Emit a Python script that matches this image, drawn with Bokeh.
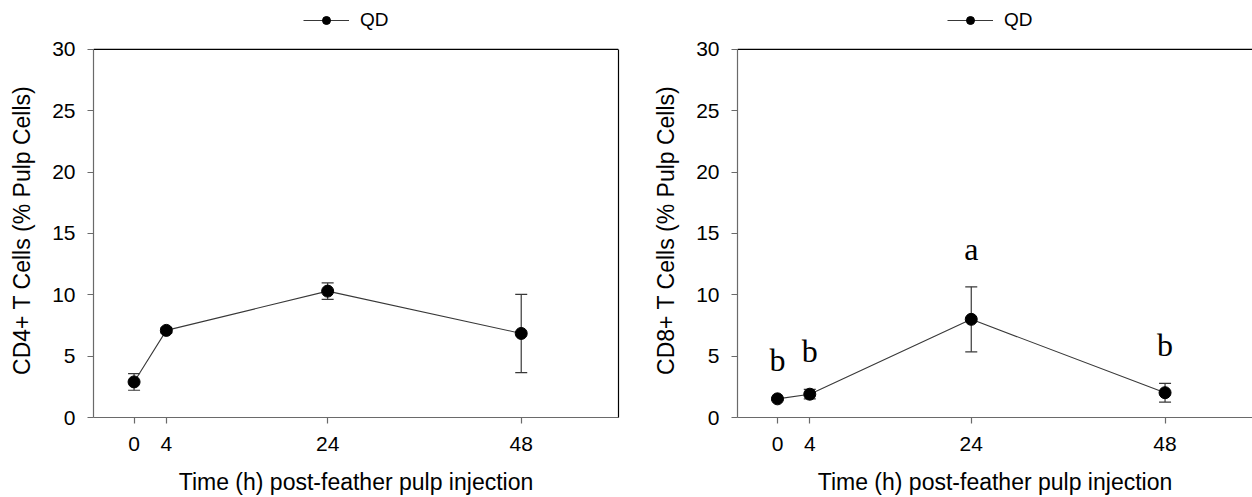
from bokeh.plotting import figure
from bokeh.models import (Range1d, Whisker, TeeHead, ColumnDataSource, Legend,
                          LegendItem, LinearAxis, FixedTicker, Span)
from bokeh.layouts import row
from bokeh.embed import file_html
from bokeh.resources import INLINE
from bokeh.core.properties import value

# ---- data ----
hours = [0, 4, 24, 48]
cd4_mean = [2.9, 7.1, 10.3, 6.85]
cd4_sem = [0.68, 0.2, 0.67, 3.19]
cd8_mean = [1.52, 1.9, 8.0, 2.02]
cd8_sem = [0.1, 0.39, 2.65, 0.76]
cd8_letters = ["b", "b", "a", "b"]
series_name = "QD"
y_ticks = [0, 5, 10, 15, 20, 25, 30]
y_max = 30
x_title = "Time (h) post-feather pulp injection"
cd4_ylabel = "CD4+ T Cells (% Pulp Cells)"
cd8_ylabel = "CD8+ T Cells (% Pulp Cells)"

SANS = "Liberation Sans"
SERIF = "Liberation Serif"
AXIS_GRAY = "#6a6a6a"
LETTER_GAP = 3.1
Y_TOP = 33.66   # frame extends above the axis box to hold the legend
LABEL_PAD = "\u00a0" * 6   # keeps the y title centred on the 0-30 box


def style_axis(ax):
    ax.axis_line_color = AXIS_GRAY
    ax.axis_line_width = 1.2
    ax.major_tick_line_color = AXIS_GRAY
    ax.major_tick_line_width = 1.2
    ax.major_tick_out = 6
    ax.major_tick_in = 0
    ax.minor_tick_line_color = None
    ax.major_label_text_font = SANS
    ax.major_label_text_font_size = "21px"
    ax.major_label_text_color = "black"
    ax.axis_label_text_font = SANS
    ax.axis_label_text_font_size = "23px"
    ax.axis_label_text_font_style = "normal"
    ax.axis_label_text_color = "black"


def make_panel(mean, sem, ylabel, border_left, border_right, x_start, x_end,
               right_border, legend_x, letters=None):
    p = figure(width=626, height=497, output_backend="svg", toolbar_location=None,
               x_range=Range1d(x_start, x_end), y_range=Range1d(0, Y_TOP),
               min_border_left=border_left, min_border_right=border_right,
               min_border_top=4, min_border_bottom=80,
               background_fill_color="white", border_fill_color="white")
    p.xgrid.visible = False
    p.ygrid.visible = False
    p.outline_line_color = None

    xa = p.below[0]
    ya = p.left[0]
    style_axis(xa)
    style_axis(ya)
    xa.ticker = FixedTicker(ticks=hours)
    ya.ticker = FixedTicker(ticks=y_ticks)
    ya.bounds = (0, y_max)
    xa.axis_label = x_title
    ya.axis_label = ylabel + LABEL_PAD
    xa.major_label_standoff = 13
    xa.axis_label_standoff = 15
    ya.major_label_standoff = 12
    ya.axis_label_standoff = 14

    # box: top line and (optionally) right line
    p.add_layout(Span(location=y_max, dimension="width", line_color="black",
                      line_width=1.2))
    if right_border:
        ra = LinearAxis(ticker=FixedTicker(ticks=[]), bounds=(0, y_max),
                        axis_line_color="black", axis_line_width=1.2,
                        major_tick_line_color=None, minor_tick_line_color=None,
                        major_label_text_color=None, major_label_standoff=0,
                        major_label_text_font_size="1px")
        p.add_layout(ra, "right")

    src = ColumnDataSource(dict(
        x=hours, y=mean,
        upper=[m + s for m, s in zip(mean, sem)],
        lower=[m - s for m, s in zip(mean, sem)],
    ))
    w = Whisker(base="x", upper="upper", lower="lower", source=src,
                line_color="#383838", line_width=1.2,
                upper_head=TeeHead(size=12, line_color="#383838", line_width=1.2),
                lower_head=TeeHead(size=12, line_color="#383838", line_width=1.2))
    w.level = "underlay"
    p.add_layout(w)
    ln = p.line("x", "y", source=src, line_color="#383838", line_width=1.1)
    sc = p.scatter("x", "y", source=src, size=12, fill_color="black", line_color="black")

    if letters is not None:
        lsrc = ColumnDataSource(dict(
            x=hours, y=[m + s + LETTER_GAP for m, s in zip(mean, sem)], t=letters))
        p.text("x", "y", text="t", source=lsrc, text_font=value(SERIF),
               text_font_size="32px", text_align="center",
               text_baseline="alphabetic", text_color="black")

    leg = Legend(items=[LegendItem(label=series_name, renderers=[ln, sc])],
                 location=(legend_x, 386), orientation="horizontal",
                 border_line_color=None, background_fill_alpha=0,
                 padding=0, margin=0, glyph_width=46, glyph_height=20,
                 label_height=20, label_standoff=11,
                 label_text_font=SANS, label_text_font_size="19px",
                 label_text_color="black")
    p.add_layout(leg)
    return p


left = make_panel(cd4_mean, cd4_sem, cd4_ylabel, 93, 8, -5.03, 60.06, True, 210)
right = make_panel(cd8_mean, cd8_sem, cd8_ylabel, 111, 0, -4.95, 58.83, False, 210,
                   letters=cd8_letters)

layout = row(left, right)
open("out.html", "w").write(file_html(layout, INLINE))
